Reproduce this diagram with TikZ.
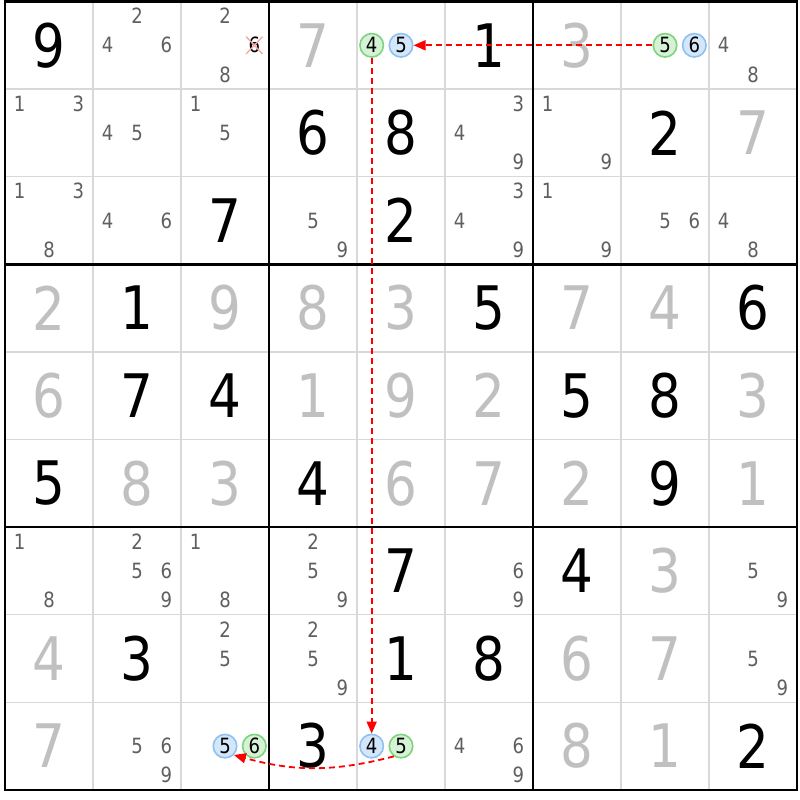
\documentclass[tikz,border=0pt]{standalone}
\usepackage{fontspec}
\setmainfont{DejaVu Sans}[FakeStretch=0.86]
\usetikzlibrary{arrows.meta,shapes.misc}

\definecolor{solvedgrey}{HTML}{C0C0C0}
\definecolor{candgrey}{HTML}{5F5F5F}
\definecolor{gridgrey}{HTML}{D8D8D8}
\definecolor{greenfill}{HTML}{D6F2D6}
\definecolor{greendraw}{HTML}{7ED37E}
\definecolor{bluefill}{HTML}{D4E6FA}
\definecolor{bluedraw}{HTML}{8EC1F2}
\definecolor{crosspink}{HTML}{F4A4A4}
\definecolor{linkred}{HTML}{FF0000}

\begin{document}
\begin{tikzpicture}[x=88pt, y=-87.6pt]

\tikzset{cellline/.style={gridgrey, line width=1.5pt}}
\tikzset{boxline/.style={black, line width=2.6pt}}
\tikzset{given/.style={inner sep=0pt, font=\fontsize{60}{60}\selectfont}}
\tikzset{solved/.style={given, text=solvedgrey}}
\tikzset{cand/.style={inner sep=0pt, font=\fontsize{21}{21}\selectfont, text=candgrey}}
\tikzset{oncand/.style={cand, text=black, circle, line width=1.6pt, minimum size=23.5pt}}
\tikzset{greencand/.style={oncand, draw=greendraw, fill=greenfill}}
\tikzset{bluecand/.style={oncand, draw=bluedraw, fill=bluefill}}
\tikzset{link/.style={draw=linkred, line width=1.8pt, dash pattern=on 6pt off 4pt, -{Triangle[length=12pt, width=10pt, fill=linkred]}}}

% page
\fill[white] (-0.0568,-0.0171) rectangle (9.034,9.115);

% grid
\foreach \i in {1,2,4,5,7,8} {
  \draw[cellline] (\i,0) -- (\i,9);
  \draw[cellline] (0,\i) -- (9,\i);
}
\foreach \i in {3,6} {
  \draw[boxline] (\i,0) -- (\i,9);
  \draw[boxline] (0,\i) -- (9,\i);
}
\draw[boxline] (0,0) rectangle (9,9);

% given digits
\foreach \r/\c/\d in {1/1/9, 1/6/1, 2/4/6, 2/5/8, 2/8/2, 3/3/7, 3/5/2,
    4/2/1, 4/6/5, 4/9/6, 5/2/7, 5/3/4, 5/7/5, 5/8/8, 6/1/5, 6/4/4, 6/8/9,
    7/5/7, 7/7/4, 8/2/3, 8/5/1, 8/6/8, 9/4/3, 9/9/2}
  \node[given] (g\r\c) at (\c-0.5,\r-0.5) {\d};

% solved digits
\foreach \r/\c/\d in {1/4/7, 1/7/3, 2/9/7, 4/1/2, 4/3/9, 4/4/8, 4/5/3,
    4/7/7, 4/8/4, 5/1/6, 5/4/1, 5/5/9, 5/6/2, 5/9/3, 6/2/8, 6/3/3, 6/5/6,
    6/6/7, 6/7/2, 6/9/1, 7/8/3, 8/1/4, 8/7/6, 8/8/7, 9/1/7, 9/7/8, 9/8/1}
  \node[solved] (s\r\c) at (\c-0.5,\r-0.5) {\d};

% candidates
\foreach \r/\c/\list in {1/2/{2,4,6}, 1/3/{2,8}, 1/9/{4,8}, 2/1/{1,3},
    2/2/{4,5}, 2/3/{1,5}, 2/6/{3,4,9}, 2/7/{1,9}, 3/1/{1,3,8}, 3/2/{4,6},
    3/4/{5,9}, 3/6/{3,4,9}, 3/7/{1,9}, 3/8/{5,6}, 3/9/{4,8}, 7/1/{1,8},
    7/2/{2,5,6,9}, 7/3/{1,8}, 7/4/{2,5,9}, 7/6/{6,9}, 7/9/{5,9}, 8/3/{2,5},
    8/4/{2,5,9}, 8/9/{5,9}, 9/2/{5,6,9}, 9/6/{4,6,9}}
  \foreach \n in \list {
    \pgfmathsetmacro\px{\c-0.5+(mod(\n-1,3)-1)/3}
    \pgfmathsetmacro\py{\r-0.5+(div(\n-1,3)-1)/3}
    \node[cand] (r\r c\c n\n) at (\px,\py) {\n};
  }

% chain candidates
\node[greencand] (r1c5n4) at (4.1667,0.5) {4};
\node[bluecand] (r1c5n5) at (4.5,0.5) {5};
\node[greencand] (r1c8n5) at (7.5,0.5) {5};
\node[bluecand] (r1c8n6) at (7.8333,0.5) {6};
\node[bluecand] (r9c3n5) at (2.5,8.5) {5};
\node[greencand] (r9c3n6) at (2.8333,8.5) {6};
\node[bluecand] (r9c5n4) at (4.1667,8.5) {4};
\node[greencand] (r9c5n5) at (4.5,8.5) {5};

% eliminated candidate
\node[cand, text=black, cross out, draw=crosspink, line width=1.3pt, minimum size=15pt] (r1c3n6) at (2.8333,0.5) {6};

% links
\draw[link] (r1c8n5) -- (r1c5n5);
\draw[link] (r1c5n4) -- (r9c5n4);
\draw[link] (r9c5n5.235) to[bend left=15] (r9c3n5.-45);

\end{tikzpicture}
\end{document}
